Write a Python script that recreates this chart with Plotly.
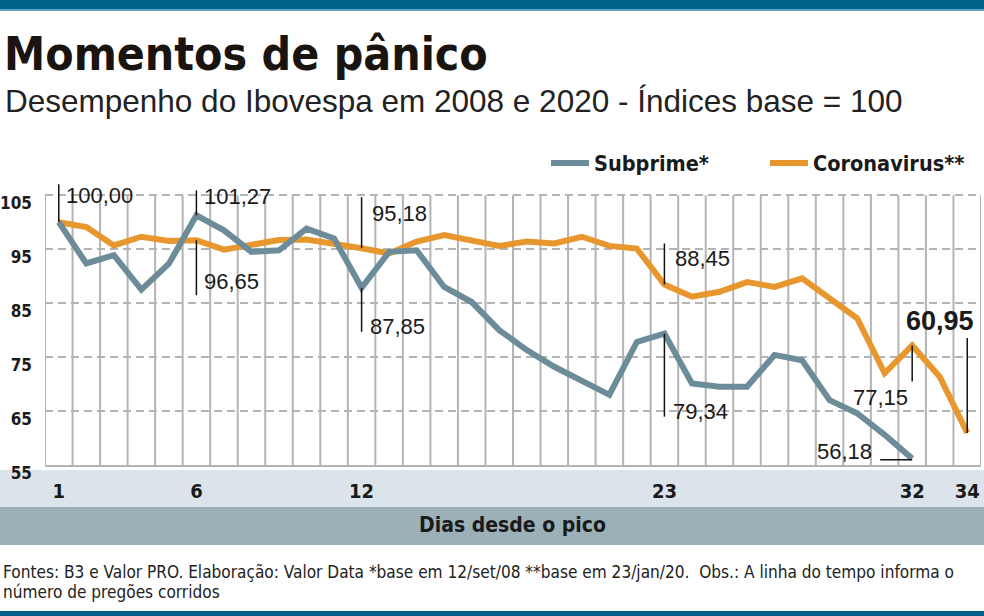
import plotly.graph_objects as go

# ---------------- data ----------------
days = list(range(1, 35))
subprime = [100.00, 92.35, 93.9, 87.5, 92.3, 101.27, 98.5, 94.5, 94.8, 98.8,
            97.0, 87.85, 94.5, 94.8, 88.0, 85.2, 80.0, 76.3, 73.2, 70.7,
            68.0, 77.8, 79.34, 70.1, 69.5, 69.5, 75.4, 74.4, 67.0, 64.6,
            60.6, 56.18]
corona = [100.00, 99.1, 95.7, 97.3, 96.5, 96.65, 94.9, 95.9, 96.7, 96.8,
          96.05, 95.18, 94.2, 96.4, 97.6, 96.7, 95.6, 96.4, 96.05, 97.3,
          95.6, 95.1, 88.45, 86.2, 87.1, 88.9, 88.0, 89.6, 85.9, 82.2,
          72.0, 77.15, 71.35, 60.95]
x_tick_days = [1, 6, 12, 23, 32, 34]
y_ticks = [55, 65, 75, 85, 95, 105]

title = "Momentos de pânico"
subtitle = "Desempenho do Ibovespa em 2008 e 2020 - Índices base = 100"
x_title = "Dias desde o pico"
footer1 = "Fontes: B3 e Valor PRO. Elaboração: Valor Data *base em 12/set/08 **base em 23/jan/20.  Obs.: A linha do tempo informa o"
footer2 = "número de pregões corridos"

# ---------------- style ----------------
W, H = 984, 616
ML, MR, MT, MB = 45, 3, 179, 151
PW, PH = W - ML - MR, H - MT - MB
COND = "DejaVu Sans Condensed, DejaVu Sans, sans-serif"
REG = "Liberation Sans, Arial, sans-serif"
SUB_C = "#6d8c9a"
COR_C = "#e8972f"
GRID_C = "#b4b4b4"
INK = "#1a1a1a"


def px_x(p):
    return (p - ML) / PW


def px_y(p):
    return (H - MB - p) / PH


def fmt(v):
    return f"{v:.2f}".replace(".", ",")


fig = go.Figure()
fig.add_trace(go.Scatter(x=days[:len(corona)], y=corona, mode="lines",
                         name="Coronavirus**",
                         line=dict(color=COR_C, width=6)))
fig.add_trace(go.Scatter(x=days[:len(subprime)], y=subprime, mode="lines",
                         name="Subprime*",
                         line=dict(color=SUB_C, width=6)))

shapes = []
edges = [d - 0.5 for d in days] + [days[-1] + 0.5]
for e in edges:
    shapes.append(dict(type="line", xref="x", yref="y", x0=e, x1=e,
                       y0=y_ticks[0], y1=y_ticks[-1], layer="below",
                       line=dict(color=GRID_C, width=2)))


def band(y0p, y1p, color):
    return dict(type="rect", xref="paper", yref="paper",
                x0=px_x(0), x1=px_x(W), y0=px_y(y0p), y1=px_y(y1p),
                fillcolor=color, line=dict(width=0), layer="below")


shapes += [
    band(470, 507, "#dbe4ea"),
    band(507, 545, "#9bb0b7"),
    band(0, 9, "#00618b"),
    band(9, 11, "#5a9fbf"),
    band(611, 616, "#00618b"),
]

callouts = [
    dict(s=subprime, d=1, line=(0, 38), tx="left", dx=5, dy=27),
    dict(s=subprime, d=6, line=(0, 25), tx="left", dx=6, dy=19),
    dict(s=corona, d=6, line=(0, -55), tx="left", dx=6, dy=-41),
    dict(s=corona, d=12, line=(0, 51), tx="left", dx=8, dy=35),
    dict(s=subprime, d=12, line=(0, -44), tx="left", dx=6, dy=-39),
    dict(s=corona, d=23, line=(0, 41), tx="left", dx=9, dy=26),
    dict(s=subprime, d=23, line=(0, -83), tx="left", dx=7, dy=-78),
    dict(s=subprime, d=32, hline=-32, tx="right", dx=-38, dy=7),
    dict(s=corona, d=32, line=(0, -36), tx="right", dx=-2, dy=-52),
    dict(s=corona, d=34, line=(0, 95), tx="center", dx=-27, dy=112, bold=True),
]

annotations = []
for c in callouts:
    v = c["s"][c["d"] - 1]
    if "hline" in c:
        shapes.append(dict(type="line", xref="x", yref="y",
                           xsizemode="pixel", xanchor=c["d"], x0=c["hline"], x1=0,
                           ysizemode="pixel", yanchor=v, y0=-1, y1=-1,
                           line=dict(color="#111", width=1.5)))
    else:
        shapes.append(dict(type="line", xref="x", yref="y",
                           x0=c["d"], x1=c["d"],
                           ysizemode="pixel", yanchor=v,
                           y0=c["line"][0], y1=c["line"][1],
                           line=dict(color="#111", width=1.5)))
    bold = c.get("bold", False)
    annotations.append(dict(
        x=c["d"], y=v, xref="x", yref="y", showarrow=False,
        text=(f"<b>{fmt(v)}</b>" if bold else fmt(v)),
        xanchor=c["tx"], yanchor="middle", xshift=c["dx"], yshift=c["dy"],
        font=dict(family=REG, size=27 if bold else 22, color=INK)))

annotations += [
    dict(xref="paper", yref="paper", x=px_x(2), y=px_y(54), xanchor="left",
         yanchor="middle", showarrow=False, text=f"<b>{title}</b>",
         font=dict(family=COND, size=46, color="#1a1410")),
    dict(xref="paper", yref="paper", x=px_x(3), y=px_y(101), xanchor="left",
         yanchor="middle", showarrow=False, text=subtitle,
         font=dict(family=REG, size=31.5, color="#222")),
    dict(xref="paper", yref="paper", x=px_x(512), y=px_y(525), xanchor="center",
         yanchor="middle", showarrow=False, text=f"<b>{x_title}</b>",
         font=dict(family=COND, size=21, color=INK)),
    dict(xref="paper", yref="paper", x=px_x(1), y=px_y(572), xanchor="left",
         yanchor="middle", showarrow=False, text=footer1,
         font=dict(family=COND, size=17.1, color="#222")),
    dict(xref="paper", yref="paper", x=px_x(1), y=px_y(592), xanchor="left",
         yanchor="middle", showarrow=False, text=footer2,
         font=dict(family=COND, size=17.1, color="#222")),
]

fig.update_layout(
    width=W, height=H,
    margin=dict(l=ML, r=MR, t=MT, b=MB, pad=0, autoexpand=False),
    paper_bgcolor="white", plot_bgcolor="white",
    shapes=shapes, annotations=annotations,
    showlegend=True,
    legend=dict(orientation="h", x=px_x(546), xanchor="left",
                y=px_y(163), yanchor="middle", traceorder="reversed",
                itemwidth=38, entrywidth=166, bgcolor="rgba(0,0,0,0)",
                font=dict(family=COND, size=21.5, weight="bold", color=INK)),
    xaxis=dict(range=[0.5, 34.5], tickvals=x_tick_days,
               ticktext=[str(d) for d in x_tick_days],
               showgrid=False, zeroline=False, showline=True,
               linecolor=GRID_C, linewidth=2, ticks="", automargin=False,
               ticklabelstandoff=7,
               tickfont=dict(family=COND, size=20, weight="bold", color=INK)),
    yaxis=dict(range=[55, 55 + PH / 5.396], tickvals=y_ticks,
               ticktext=[str(v) for v in y_ticks],
               showgrid=True, gridcolor=GRID_C, gridwidth=2, griddash="8px,5px",
               zeroline=False, showline=False, ticks="", automargin=False,
               ticklabelstandoff=12, ticklabelshift=8,
               tickfont=dict(family=COND, size=17, weight="bold", color=INK)),
)

fig.write_html("out.html", config={"displayModeBar": False},
               post_script="document.body.style.margin='0';document.body.style.overflow='hidden';")
